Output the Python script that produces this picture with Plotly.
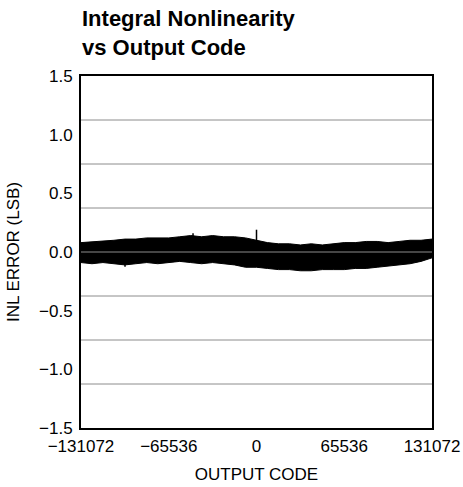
import plotly.graph_objects as go

# Output codes (every 8192 codes) and band envelope of INL error (LSB)
codes = [-131072 + 8192 * i for i in range(33)]
inl_upper = [0.08, 0.085, 0.09, 0.10, 0.11, 0.11, 0.12, 0.12, 0.12, 0.13, 0.14,
             0.13, 0.14, 0.13, 0.13, 0.12, 0.10, 0.08, 0.07, 0.07, 0.06, 0.07,
             0.06, 0.07, 0.08, 0.08, 0.09, 0.09, 0.08, 0.09, 0.10, 0.10, 0.11]
inl_lower = [-0.09, -0.10, -0.09, -0.10, -0.11, -0.10, -0.09, -0.10, -0.09, -0.08, -0.09,
             -0.10, -0.09, -0.10, -0.11, -0.13, -0.13, -0.14, -0.15, -0.15, -0.16, -0.16,
             -0.15, -0.15, -0.15, -0.14, -0.14, -0.13, -0.12, -0.11, -0.10, -0.08, -0.05]

# Isolated spikes
spike_codes = [0, -47400, -98200]
spike_values = [0.19, 0.16, -0.125]

x_tickvals = [-131072, -65536, 0, 65536, 131072]
x_ticktext = ["\u2212131072", "\u221265536", "0", "65536", "131072"]
y_tickvals = [-1.5, -1.0, -0.5, 0.0, 0.5, 1.0, 1.5]
y_ticktext = ["\u22121.5", "\u22121.0", "\u22120.5", "0.0", "0.5", "1.0", "1.5"]

FONT = "Liberation Sans, Arial, Helvetica, sans-serif"

fig = go.Figure()
fig.add_trace(go.Scatter(x=codes, y=inl_lower, mode="lines",
                         line=dict(color="black", width=1), showlegend=False,
                         hoverinfo="skip"))
fig.add_trace(go.Scatter(x=codes, y=inl_upper, mode="lines", fill="tonexty",
                         fillcolor="black", line=dict(color="black", width=1),
                         showlegend=False, hoverinfo="skip"))

sx, sy = [], []
for c, v in zip(spike_codes, spike_values):
    sx += [c, c, None]
    sy += [0, v, None]
fig.add_trace(go.Scatter(x=sx, y=sy, mode="lines", line=dict(color="black", width=1.5),
                         showlegend=False, hoverinfo="skip"))

shapes = []
for k in range(1, 8):
    yv = -1.5 + 0.375 * k
    shapes.append(dict(type="line", xref="paper", x0=0, x1=1, yref="y", y0=yv, y1=yv,
                       line=dict(color="#8c8c8c", width=1), layer="above"))

fig.update_layout(
    width=463, height=487,
    margin=dict(l=81, r=31, t=76, b=59),
    paper_bgcolor="white", plot_bgcolor="white",
    font=dict(family=FONT, size=17, color="black"),
    shapes=shapes,
    annotations=[dict(text="<b>Integral Nonlinearity<br>vs Output Code</b>",
                      xref="paper", yref="paper", x=-0.003, y=1.205,
                      xanchor="left", yanchor="top", align="left", showarrow=False,
                      font=dict(family=FONT, size=22, color="black"))],
    xaxis=dict(range=[-131072, 131072], tickvals=x_tickvals, ticktext=x_ticktext,
               showgrid=False, zeroline=False, ticks="", showline=True, linecolor="black",
               linewidth=2, mirror=True, automargin=False, ticklabelstandoff=2,
               title=dict(text="OUTPUT CODE", standoff=13, font=dict(size=17)),
               tickfont=dict(size=17)),
    yaxis=dict(range=[-1.5, 1.5], tickvals=y_tickvals, ticktext=y_ticktext,
               showgrid=False, zeroline=False, ticks="", showline=True, linecolor="black",
               linewidth=2, mirror=True, automargin=False, ticklabelstandoff=3,
               title=dict(text="INL ERROR (LSB)", standoff=15, font=dict(size=17)),
               tickfont=dict(size=17)),
)

fig.write_html("out.html",
               config={"displayModeBar": False, "staticPlot": True},
               post_script="document.body.style.margin='0';document.body.style.overflow='hidden';")
